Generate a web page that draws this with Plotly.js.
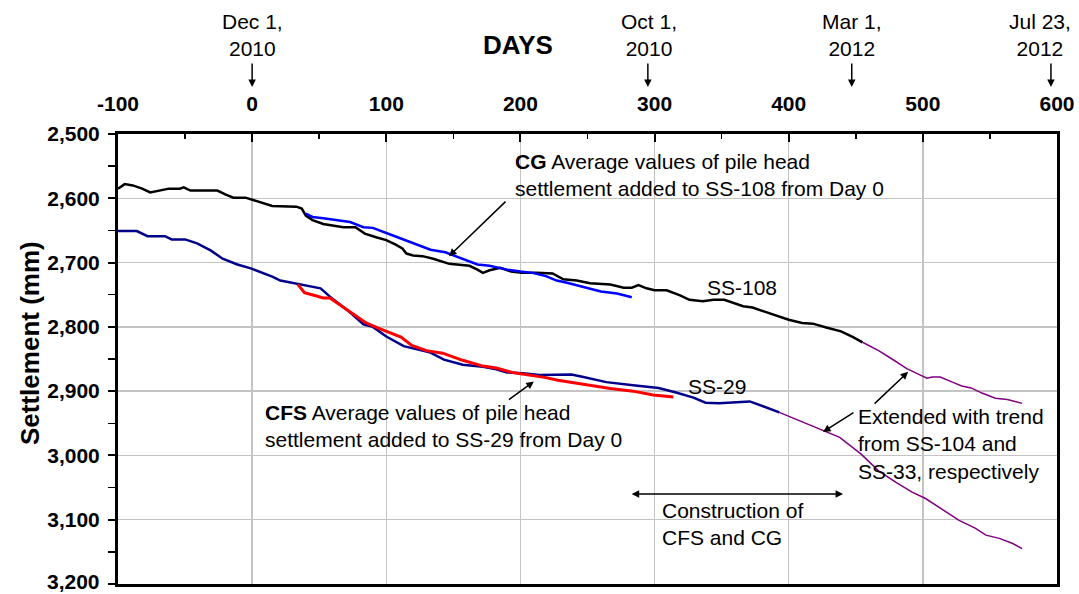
<!DOCTYPE html>
<html>
<head>
<meta charset="utf-8">
<script src="https://cdn.plot.ly/plotly-3.0.1.min.js"></script>
<style>html,body{margin:0;padding:0;background:#fff;}#chart{width:1079px;height:594px;}</style>
</head>
<body>
<div id="chart"></div>
<script>
// SS-108 measured (black)
const ss108Days = [-100,-95,-89,-82,-76,-70,-62,-54,-51,-46,-26,-20,-14,-5,3,10,15,33,37,40,45,53,59,68,77,84,93,100,107,112,115,120,127,135,147,162,168,172,177,185,193,201,212,224,232,242,252,267,277,283,288,294,300,309,319,326,336,344,352,358,366,373,385,400,410,418,428,439,448,455];
const ss108Vals = [2585,2578,2580,2585,2591,2588,2585,2585,2583,2588,2588,2594,2599,2599,2604,2609,2612,2613,2616,2627,2634,2640,2642,2645,2645,2655,2661,2665,2672,2678,2686,2689,2690,2694,2702,2705,2711,2716,2712,2708,2714,2716,2716,2717,2726,2728,2732,2734,2739,2739,2735,2740,2743,2743,2751,2758,2760,2758,2758,2762,2768,2770,2778,2789,2794,2795,2801,2807,2816,2824];
// SS-108 extension (purple)
const ext108Days = [455,467,477,488,497,503,507,513,522,529,536,544,554,563,574];
const ext108Vals = [2824,2837,2850,2865,2874,2880,2878,2878,2886,2892,2895,2903,2911,2913,2919];
// CG (blue)
const cgDays = [40,45,53,63,73,83,90,100,110,120,133,144,155,168,177,190,200,209,219,227,234,244,254,260,272,283];
const cgVals = [2624,2629,2631,2634,2637,2645,2646,2654,2662,2670,2680,2684,2693,2703,2705,2711,2714,2716,2721,2728,2731,2736,2741,2745,2748,2754];
// SS-29 measured (navy)
const ss29Days = [-100,-86,-78,-65,-60,-50,-41,-31,-22,-11,-1,7,15,21,33,43,51,58,71,83,90,100,113,123,133,143,157,172,182,190,202,214,229,238,247,264,284,303,316,329,338,348,371,383,393];
const ss29Vals = [2651,2651,2659,2659,2664,2664,2670,2681,2694,2703,2709,2715,2722,2728,2733,2736,2740,2753,2774,2796,2800,2815,2830,2835,2840,2851,2859,2862,2866,2871,2872,2875,2875,2874,2878,2886,2891,2895,2902,2910,2918,2919,2916,2925,2933];
// SS-29 extension (purple)
const ext29Days = [393,408,425,438,454,467,480,492,502,512,527,539,547,557,567,574];
const ext29Vals = [2933,2946,2961,2972,2998,3024,3042,3057,3067,3081,3101,3113,3124,3129,3137,3145];
// CFS (red)
const cfsDays = [34,39,48,53,58,65,75,85,94,103,111,119,130,142,157,172,182,194,207,219,228,237,254,267,284,299,314];
const cfsVals = [2734,2747,2752,2755,2755,2765,2780,2794,2802,2809,2816,2829,2837,2841,2852,2861,2864,2871,2875,2879,2883,2886,2892,2896,2900,2906,2909];

const xTicks = [-100,0,100,200,300,400,500,600];
const yTicks = [2500,2600,2700,2800,2900,3000,3100,3200];
const yBottomLabel = "3,200";

const dateLabels = ["Dec 1,<br>2010","Oct 1,<br>2010","Mar 1,<br>2012","Jul 23,<br>2012"];
const dateTextDays = [0,296,447,587];
const dateArrowDays = [0,295,447,595.5];

const FONT = "Arial, 'Liberation Sans', sans-serif";

const traces = [
  {x: ss108Days, y: ss108Vals, mode:'lines', line:{color:'#000000', width:2.5}},
  {x: ext108Days, y: ext108Vals, mode:'lines', line:{color:'#800080', width:1.5}},
  {x: cgDays, y: cgVals, mode:'lines', line:{color:'#0000ff', width:2.5}},
  {x: ss29Days, y: ss29Vals, mode:'lines', line:{color:'#00008b', width:2.5}},
  {x: ext29Days, y: ext29Vals, mode:'lines', line:{color:'#800080', width:1.5}},
  {x: cfsDays, y: cfsVals, mode:'lines', line:{color:'#ff0000', width:3}}
];

const annFont = {family: FONT, size: 21, color:'#000'};
const annotations = [
  {xref:'x', yref:'y', x:194.5, y:2564, xanchor:'left', yanchor:'middle', align:'left', showarrow:false,
   text:'<b>CG</b> Average values of pile head<br>settlement added to SS-108 from Day 0', font:annFont},
  {xref:'x', yref:'y', x:146.8, y:2690, axref:'x', ayref:'y', ax:190, ay:2603, text:'', showarrow:true, arrowhead:2, arrowsize:1, arrowwidth:1.5, arrowcolor:'#000'},
  {xref:'x', yref:'y', x:365, y:2738, xanchor:'center', yanchor:'middle', showarrow:false, text:'SS-108', font:annFont},
  {xref:'x', yref:'y', x:346.6, y:2893.5, xanchor:'center', yanchor:'middle', showarrow:false, text:'SS-29', font:annFont},
  {xref:'x', yref:'y', x:8.3, y:2954, xanchor:'left', yanchor:'middle', align:'left', showarrow:false,
   text:'<b>CFS</b> Average values of pile head<br>settlement added to SS-29 from Day 0', font:annFont},
  {xref:'x', yref:'y', x:210, y:2885, axref:'x', ayref:'y', ax:190.3, ay:2915, text:'', showarrow:true, arrowhead:2, arrowsize:1, arrowwidth:1.5, arrowcolor:'#000'},
  {xref:'x', yref:'y', x:450.2, y:2982, xanchor:'left', yanchor:'middle', align:'left', showarrow:false,
   text:'Extended with trend<br>from SS-104 and<br>SS-33, respectively', font:annFont},
  {xref:'x', yref:'y', x:489, y:2870, axref:'x', ayref:'y', ax:462.9, ay:2921.6, text:'', showarrow:true, arrowhead:2, arrowsize:1, arrowwidth:1.5, arrowcolor:'#000'},
  {xref:'x', yref:'y', x:425.6, y:2963.6, axref:'x', ayref:'y', ax:449.4, ay:2932, text:'', showarrow:true, arrowhead:2, arrowsize:1, arrowwidth:1.5, arrowcolor:'#000'},
  {xref:'x', yref:'y', x:304, y:3106.5, xanchor:'left', yanchor:'middle', align:'left', showarrow:false,
   text:'Construction of<br>CFS and CG', font:annFont},
  {xref:'x', yref:'y', x:440.5, y:3060, axref:'x', ayref:'y', ax:281.8, ay:3060, text:'', showarrow:true, arrowhead:2, startarrowhead:2, arrowside:'end+start', arrowsize:1, arrowwidth:1.5, arrowcolor:'#000'},
  {xref:'paper', yref:'paper', x:0.426, y:1.198, xanchor:'center', yanchor:'middle', showarrow:false, text:'<b>DAYS</b>', font:{family:FONT, size:26, color:'#000'}},
  {xref:'paper', yref:'paper', x:-0.0937, y:0.5356, xanchor:'center', yanchor:'middle', showarrow:false, textangle:-90, text:'<b>Settlement (mm)</b>', font:{family:FONT, size:26, color:'#000'}},
  {xref:'paper', yref:'paper', x:-0.0185, y:-0.0215, xanchor:'right', yanchor:'bottom', borderpad:0, showarrow:false, text:'<b>' + yBottomLabel + '</b>', font:{family:FONT, size:21, color:'#000'}}
];
for (let i = 0; i < dateLabels.length; i++) {
  annotations.push({xref:'x', yref:'paper', x:dateTextDays[i], y:1.22, xanchor:'center', yanchor:'middle', showarrow:false, text:dateLabels[i], font:annFont});
  annotations.push({xref:'x', yref:'paper', x:dateArrowDays[i], y:1.1044, ax:0, ay:-25, text:'', showarrow:true, arrowhead:2, arrowsize:1, arrowwidth:1.5, arrowcolor:'#000'});
}

const layout = {
  width:1079, height:594,
  margin:{l:118, r:22, t:134, b:10},
  paper_bgcolor:'#fff', plot_bgcolor:'#fff',
  showlegend:false,
  font:{family:FONT, color:'#000'},
  xaxis:{
    range:[-100,600], side:'top', tickvals:xTicks, ticktext:xTicks.map(String),
    ticks:'inside', ticklen:8, tickwidth:2, tickcolor:'#000',
    minor:{dtick:50, tick0:0, ticks:'inside', ticklen:5, tickwidth:1.5, tickcolor:'#000', showgrid:false},
    showline:true, linewidth:3, linecolor:'#000', mirror:true,
    showgrid:true, gridcolor:'#c4c4c4', gridwidth:1.5, zeroline:false,
    tickfont:{family:FONT, size:21, weight:'bold', color:'#000'}, ticklabelstandoff:12
  },
  yaxis:{
    range:[3200,2500], tickvals:yTicks, tickformat:',d',
    ticks:'outside', ticklen:7, tickwidth:2, tickcolor:'#000',
    minor:{dtick:50, tick0:2500, ticks:'outside', ticklen:7, tickwidth:1.5, tickcolor:'#000', showgrid:false},
    showline:true, linewidth:3, linecolor:'#000', mirror:true,
    showgrid:true, gridcolor:'#c4c4c4', gridwidth:1.5, zeroline:false,
    tickfont:{family:FONT, size:21, weight:'bold', color:'#000'}, ticklabelstandoff:4
  },
  annotations: annotations
};

Plotly.newPlot('chart', traces, layout, {displayModeBar:false, staticPlot:true});
</script>
</body>
</html>
